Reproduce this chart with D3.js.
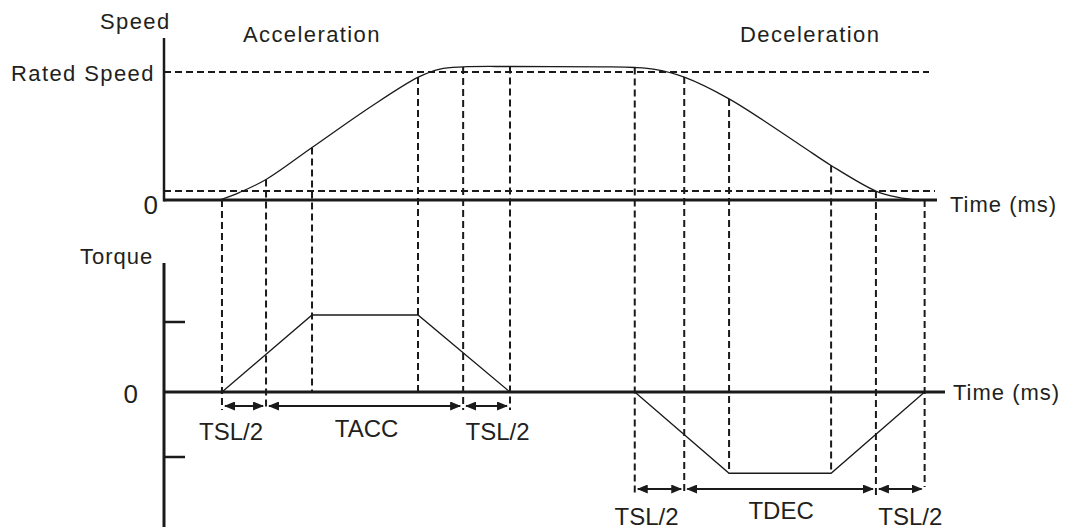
<!DOCTYPE html>
<html>
<head>
<meta charset="utf-8">
<script src="https://cdn.jsdelivr.net/npm/d3@7"></script>
<style>
  body { margin: 0; background: #fff; }
  svg { display: block; font-family: "Liberation Sans", Arial, sans-serif; }
  text { fill: #231f20; }
</style>
</head>
<body>
<svg id="chart" width="1070" height="532"></svg>
<script>
// speed profile (time in % of the time axis, speed relative to rated speed)
var speedT = [7.2, 9.8, 13.2, 19.15, 26.7, 32.9, 35.7, 38.7, 44.8, 56.5,
              60.9, 63.5, 67.3, 73.1, 82.3, 86.3, 92.1, 95, 97.4];
var speedV = [0, 0.06, 0.16, 0.41, 0.727, 0.96, 1.023, 1.04, 1.043, 1.04,
              1.035, 1.02, 0.96, 0.79, 0.43, 0.27, 0.07, 0.02, 0];

// torque profile
var torqueT = [7.5, 19.15, 32.86, 44.76, 60.9, 73.1, 86.3, 98.4];
var torqueV = [0, 1.1, 1.1, 0, 0, -1.25, -1.25, 0];

// dashed marker lines (time, speed where they start)
var markerT = [7.5, 13.2, 19.15, 32.86, 38.7, 44.76, 60.9, 67.3, 73.1, 86.3, 92.1, 98.4];
var markerSpeed = [0, 0.16, 0.41, 0.96, 1.04, 1.043, 1.035, 0.96, 0.79, 0.27, 0.07, 0];
var markerTorque = [null, null, 1.1, 1.1, null, null, null, null, -1.25, -1.25, null, null];

var ratedSpeed = 1, lowSpeed = 0.07;
var torqueTicks = [1, -1];

// interval annotations
var accSpans = [[7.5, 13.2, "TSL/2"], [13.2, 38.7, "TACC"], [38.7, 44.76, "TSL/2"]];
var decSpans = [[60.9, 67.3, "TSL/2"], [67.3, 92.1, "TDEC"], [92.1, 98.4, "TSL/2"]];

var svg = d3.select("#chart");
var ink = "#1a1a1a";

var x = d3.scaleLinear().domain([0, 100]).range([164, 937]);
var ySpeed = d3.scaleLinear().domain([0, 1]).range([200, 72]);
var yTorque = d3.scaleLinear().domain([-1, 0, 1]).range([457, 392, 322]);

var defs = svg.append("defs");
defs.append("marker")
    .attr("id", "head")
    .attr("markerUnits", "userSpaceOnUse")
    .attr("markerWidth", 11).attr("markerHeight", 9)
    .attr("refX", 10).attr("refY", 4.5)
    .attr("orient", "auto-start-reverse")
  .append("path")
    .attr("d", "M0,0 L11,4.5 L0,9 Z")
    .attr("fill", ink);

// dashed guide lines
var dash = "7,4";
svg.append("g").selectAll("line")
    .data([ratedSpeed, lowSpeed])
  .enter().append("line")
    .attr("x1", 164)
    .attr("x2", function(d, i) { return i ? 935 : 929; })
    .attr("y1", function(d) { return ySpeed(d); })
    .attr("y2", function(d) { return ySpeed(d); })
    .attr("stroke", ink).attr("stroke-width", 2).attr("stroke-dasharray", dash);

svg.append("g").selectAll("line")
    .data(markerT)
  .enter().append("line")
    .attr("x1", function(d) { return x(d); })
    .attr("x2", function(d) { return x(d); })
    .attr("y1", function(d, i) { return ySpeed(markerSpeed[i]); })
    .attr("y2", function(d, i) {
      var tq = markerTorque[i];
      if (tq != null) return Math.max(yTorque(0), yTorque(tq));
      if (i < 6) return 410;
      return i == 11 ? 487 : 495;
    })
    .attr("stroke", ink).attr("stroke-width", 2).attr("stroke-dasharray", dash);

// speed axes
svg.append("line").attr("x1", 164).attr("x2", 164).attr("y1", 38).attr("y2", 201.5)
    .attr("stroke", ink).attr("stroke-width", 2.5);
svg.append("line").attr("x1", 164).attr("x2", x(100)).attr("y1", ySpeed(0)).attr("y2", ySpeed(0))
    .attr("stroke", ink).attr("stroke-width", 3);

// torque axes
svg.append("line").attr("x1", 164).attr("x2", 164).attr("y1", 263).attr("y2", 527)
    .attr("stroke", ink).attr("stroke-width", 3);
svg.append("line").attr("x1", 164).attr("x2", 945).attr("y1", yTorque(0)).attr("y2", yTorque(0))
    .attr("stroke", ink).attr("stroke-width", 3);
svg.append("g").selectAll("line")
    .data(torqueTicks)
  .enter().append("line")
    .attr("x1", 164).attr("x2", 185)
    .attr("y1", function(d) { return yTorque(d); })
    .attr("y2", function(d) { return yTorque(d); })
    .attr("stroke", ink).attr("stroke-width", 2.5);

// speed curve
var speedLine = d3.line()
    .x(function(d) { return x(d[0]); })
    .y(function(d) { return ySpeed(d[1]); })
    .curve(d3.curveCatmullRom.alpha(0.5));
svg.append("path")
    .datum(d3.zip(speedT, speedV))
    .attr("d", speedLine)
    .attr("fill", "none").attr("stroke", ink).attr("stroke-width", 1.3);

// torque curve
var torqueLine = d3.line()
    .x(function(d) { return x(d[0]); })
    .y(function(d) { return yTorque(d[1]); });
svg.append("path")
    .datum(d3.zip(torqueT.slice(0, 4), torqueV.slice(0, 4)))
    .attr("d", torqueLine)
    .attr("fill", "none").attr("stroke", ink).attr("stroke-width", 1.3);
svg.append("path")
    .datum(d3.zip(torqueT.slice(4), torqueV.slice(4)))
    .attr("d", torqueLine)
    .attr("fill", "none").attr("stroke", ink).attr("stroke-width", 1.3);

// interval arrows + labels
function spans(data, yArrow, yText, yTextMid, dx) {
  var g = svg.append("g");
  g.selectAll("line")
      .data(data)
    .enter().append("line")
      .attr("x1", function(d) { return x(d[0]) + 3; })
      .attr("x2", function(d) { return x(d[1]) - 3; })
      .attr("y1", yArrow).attr("y2", yArrow)
      .attr("stroke", ink).attr("stroke-width", 2)
      .attr("marker-start", "url(#head)")
      .attr("marker-end", "url(#head)");
  g.selectAll("text")
      .data(data)
    .enter().append("text")
      .attr("x", function(d, i) { return (x(d[0]) + x(d[1])) / 2 + dx[i]; })
      .attr("y", function(d, i) { return i == 1 ? yTextMid : yText; })
      .attr("text-anchor", "middle")
      .style("font-size", "24px")
      .text(function(d) { return d[2]; });
}
spans(accSpans, 406, 440, 437, [-13, 2, 11]);
spans(decSpans, 489, 525, 519, [-13, 1, 10]);

// labels
function label(txt, px, py, size, anchor, spacing) {
  svg.append("text")
      .attr("x", px).attr("y", py)
      .attr("text-anchor", anchor || "start")
      .style("font-size", size + "px")
      .style("letter-spacing", (spacing || 0) + "px")
      .text(txt);
}
label("Speed", 100, 29, 22, "start", 1.4);
label("Acceleration", 243, 42, 22, "start", 1.4);
label("Deceleration", 740, 42, 22, "start", 1.4);
label("Rated Speed", 11, 81, 22, "start", 1.4);
label("0", 158, 214, 26, "end");
label("Time (ms)", 950, 212, 22, "start", 1);
label("Torque", 80, 264, 22, "start", 1);
label("0", 138, 403, 26, "end");
label("Time (ms)", 953, 400, 22, "start", 1);
</script>
</body>
</html>
